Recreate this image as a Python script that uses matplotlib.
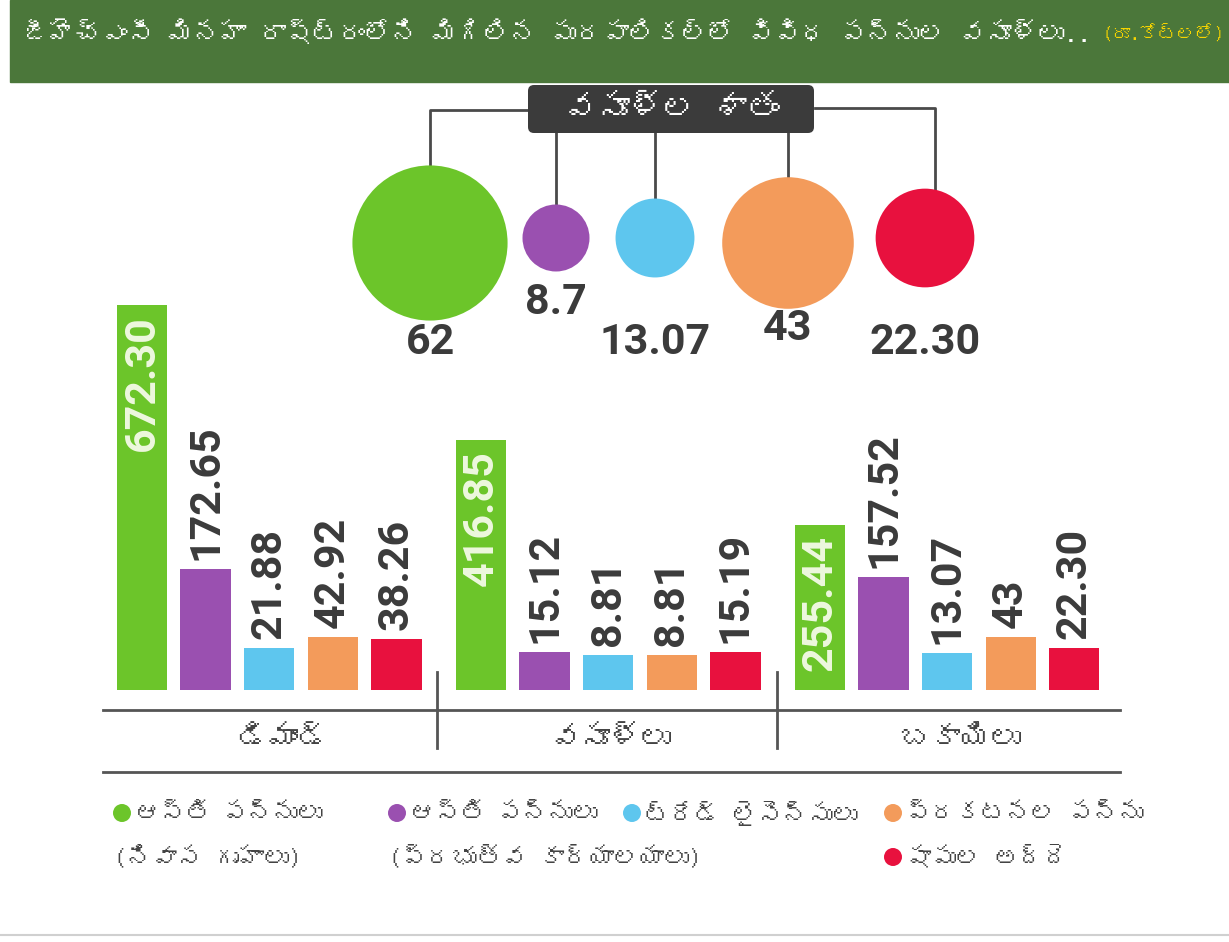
import matplotlib
matplotlib.use("Agg")
import matplotlib.pyplot as plt
import numpy as np
from matplotlib import font_manager
from matplotlib.ft2font import FT2Font
from matplotlib.patches import Rectangle, FancyBboxPatch

# ---- data ----
title = "జీహెచ్ఎంసీ మినహా రాష్ట్రంలోని మిగిలిన పురపాలికల్లో వివిధ పన్నుల వసూళ్లు.."
unit = "(రూ.కోట్లలో)"
pct_title = "వసూళ్ల శాతం"
groups = ["డిమాండ్", "వసూళ్లు", "బకాయిలు"]
series = ["ఆస్తి పన్నులు\n(నివాస గృహాలు)", "ఆస్తి పన్నులు\n(ప్రభుత్వ కార్యాలయాలు)",
          "ట్రేడ్ లైసెన్సులు", "ప్రకటనల పన్ను", "షాపుల అద్దె"]
demand = [672.30, 172.65, 21.88, 42.92, 38.26]
collected = [416.85, 15.12, 8.81, 8.81, 15.19]
pending = [255.44, 157.52, 13.07, 43, 22.30]
demand_lbl = ["672.30", "172.65", "21.88", "42.92", "38.26"]
collected_lbl = ["416.85", "15.12", "8.81", "8.81", "15.19"]
pending_lbl = ["255.44", "157.52", "13.07", "43", "22.30"]
pct = [62, 8.7, 13.07, 43, 22.30]
pct_lbl = ["62", "8.7", "13.07", "43", "22.30"]

colors = ["#6cc52a", "#9a50b0", "#5ec6ee", "#f39b5b", "#e8113e"]
dark = "#3b3b3b"


def find_font(ch):
    # look for any installed font that has the given glyph
    for f in font_manager.fontManager.ttflist:
        try:
            if ord(ch) in FT2Font(f.fname).get_charmap():
                return f.name
        except Exception:
            pass
    return None


tel = find_font("వ")
fam = [tel, "DejaVu Sans"] if tel else ["DejaVu Sans"]
num_font = "Roboto"

W, H = 1229, 942
fig = plt.figure(figsize=(W / 100, H / 100), dpi=100)
fig.patch.set_facecolor("white")

# overlay axes in pixel coords
ov = fig.add_axes([0, 0, 1, 1])
ov.set_xlim(0, W)
ov.set_ylim(H, 0)
ov.axis("off")

# header band
ov.add_patch(Rectangle((10, 0), W - 10, 82, color="#4b773a", zorder=1))
ov.text(22, 32, title, color="white", fontsize=19, fontweight="bold",
        family=fam, va="center", ha="left", zorder=2)
ov.text(1224, 34, unit, color="#f7d400", fontsize=13.5, fontweight="bold",
        family=fam, va="center", ha="right", zorder=2)

# percentage bubbles
bx = [430, 556, 655, 788, 925]
by = [243, 238, 238, 243, 238]
diam_px = 17.9 * np.sqrt(pct) + 14.2
ov.scatter(bx, by, s=(diam_px * 0.72) ** 2, c=colors, edgecolors="none", zorder=3)
lbl_y = [342, 302, 342, 328, 342]
for x, y, t in zip(bx, lbl_y, pct_lbl):
    ov.text(x, y, t, family=num_font, fontweight="bold", fontsize=31,
            color=dark, ha="center", va="center", zorder=3)

# connector lines from the title box
lc = "#4a4a4a"
ov.plot([430, 430, 527], [by[0] - diam_px[0] / 2, 110, 110], color=lc, lw=2, zorder=2)
ov.plot([935, 935, 815], [by[4] - diam_px[4] / 2, 108, 108], color=lc, lw=2, zorder=2)
for i in [1, 2, 3]:
    ov.plot([bx[i], bx[i]], [130, by[i] - diam_px[i] / 2], color=lc, lw=2, zorder=2)
ov.add_patch(FancyBboxPatch((530, 87), 282, 44, boxstyle="round,pad=2,rounding_size=6",
                            fc=dark, ec="none", zorder=4))
ov.text(671, 108, pct_title, color="white", fontsize=24, fontweight="bold",
        family=fam, ha="center", va="center", zorder=5)

# separators and group labels
ov.plot([103, 1120], [710, 710], color="#555555", lw=2, zorder=2)
ov.plot([103, 1120], [772, 772], color="#555555", lw=2, zorder=2)
ov.plot([437, 437], [672, 748], color="#555555", lw=2, zorder=2)
ov.plot([777, 777], [672, 748], color="#555555", lw=2, zorder=2)
ov.plot([0, W], [935, 935], color="#d0d0d0", lw=1.5, zorder=2)
for x, g in zip([283, 610, 960], groups):
    ov.text(x, 740, g, fontsize=22, color="#444444", family=fam,
            ha="center", va="center", zorder=2)

# legend
leg_x = [122, 397, 632, 893, 893]
leg_y = [813, 813, 813, 813, 857]
ov.scatter(leg_x, leg_y, s=(18 * 0.72) ** 2, c=colors, edgecolors="none", zorder=3)
for x, y, t in zip(leg_x, leg_y, series):
    lines = t.split("\n")
    for k, line in enumerate(lines):
        # second line of a label starts a bit left, under the dot
        lx = x + 13 if k == 0 else x - 8
        ov.text(lx, y + 44 * k, line, fontsize=18, color="#444444", family=fam,
                ha="left", va="center", zorder=3)

# ---- bars ----
px_per_unit = 63.6
base = 57.6          # bars start a bit below zero like the original
px_per_val = 0.5275
bar_top_px, bar_bot_px = 290, 690
left_px, right_px = 100, 1120
ax = fig.add_axes([left_px / W, (H - bar_bot_px) / H, (right_px - left_px) / W,
                   (bar_bot_px - bar_top_px) / H])
ax.set_xlim(-(142 - left_px) / px_per_unit, (right_px - 142) / px_per_unit)
ax.set_ylim(-base, -base + (bar_bot_px - bar_top_px) / px_per_val)
ax.axis("off")
ax.patch.set_alpha(0)

vals = [demand, collected, pending]
lbls = [demand_lbl, collected_lbl, pending_lbl]
gap = 5.33
for g in range(3):
    x = np.arange(5) + g * gap
    v = np.array(vals[g])
    ax.bar(x, v + base, bottom=-base, width=0.79, color=colors, zorder=2)
    for i in range(5):
        if i == 0:
            ax.annotate(lbls[g][i], (x[i], v[i]), xytext=(0, -10),
                        textcoords="offset pixels", rotation=90, ha="center",
                        va="top", fontsize=31, fontweight="bold",
                        family=num_font, color="#eef8df", zorder=3)
        else:
            ax.annotate(lbls[g][i], (x[i], v[i]), xytext=(0, 9),
                        textcoords="offset pixels", rotation=90, ha="center",
                        va="bottom", fontsize=31, fontweight="bold",
                        family=num_font, color=dark, zorder=3)

fig.savefig("out.png", dpi=100, facecolor="white")
